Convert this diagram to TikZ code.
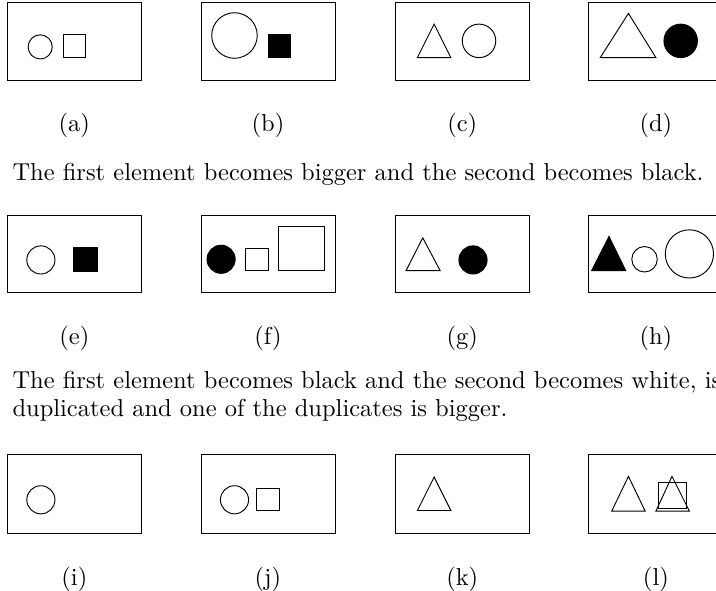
\documentclass[tikz,border=0pt]{standalone}
\usepackage{tikz}
\usetikzlibrary{positioning}

\begin{document}
\begin{tikzpicture}[panel/.style={draw,thin},
    solid shape/.style={fill=black,draw},
    sublabel/.style={anchor=base,inner sep=0pt,font=\fontsize{10.4pt}{12.4pt}\selectfont},
    caption/.style={anchor=base west,inner sep=0pt,align=left,font=\fontsize{10.4pt}{11.9pt}\selectfont}]
        \clip (0,0) rectangle (10.687,-8.821);
        \draw[panel] (0.11,-0.03) rectangle (2.11,-1.20);
        \draw[panel] (3.00,-0.03) rectangle (5.00,-1.20);
        \draw[panel] (5.90,-0.03) rectangle (7.90,-1.20);
        \draw[panel] (8.79,-0.03) rectangle (10.79,-1.20);
        \draw[panel] (0.11,-3.21) rectangle (2.11,-4.37);
        \draw[panel] (3.00,-3.21) rectangle (5.00,-4.37);
        \draw[panel] (5.90,-3.21) rectangle (7.90,-4.37);
        \draw[panel] (8.79,-3.21) rectangle (10.79,-4.37);
        \draw[panel] (0.11,-6.79) rectangle (2.11,-7.96);
        \draw[panel] (3.00,-6.79) rectangle (5.00,-7.96);
        \draw[panel] (5.90,-6.79) rectangle (7.90,-7.96);
        \draw[panel] (8.79,-6.79) rectangle (10.79,-7.96);
        \draw[panel] (0.60,-0.70) circle (0.18);
        \draw[panel] (0.94,-0.52) rectangle (1.28,-0.86);
        \draw[panel] (3.50,-0.53) circle (0.34);
        \draw[solid shape] (4.00,-0.52) rectangle (4.34,-0.86);
        \draw[panel] (6.23,-0.86) -- (6.73,-0.86) -- (6.48,-0.36) -- cycle;
        \draw[panel] (7.15,-0.61) circle (0.25);
        \draw[panel] (8.96,-0.86) -- (9.79,-0.86) -- (9.38,-0.20) -- cycle;
        \draw[solid shape] (10.16,-0.61) circle (0.25);
        \draw[panel] (0.61,-3.88) circle (0.21);
        \draw[solid shape] (1.10,-3.70) rectangle (1.45,-4.05);
        \draw[solid shape] (3.30,-3.87) circle (0.21);
        \draw[panel] (3.66,-3.71) rectangle (4.01,-4.04);
        \draw[panel] (4.16,-3.38) rectangle (4.84,-4.04);
        \draw[panel] (6.06,-4.04) -- (6.57,-4.04) -- (6.31,-3.55) -- cycle;
        \draw[solid shape] (7.06,-3.88) circle (0.21);
        \draw[solid shape] (8.83,-4.04) -- (9.34,-4.04) -- (9.09,-3.53) -- cycle;
        \draw[panel] (9.62,-3.87) circle (0.19);
        \draw[panel] (10.29,-3.79) circle (0.36);
        \draw[panel] (0.61,-7.46) circle (0.21);
        \draw[panel] (3.50,-7.46) circle (0.21);
        \draw[panel] (3.83,-7.29) rectangle (4.17,-7.62);
        \draw[panel] (6.23,-7.62) -- (6.73,-7.62) -- (6.48,-7.12) -- cycle;
        \draw[panel] (9.13,-7.63) -- (9.63,-7.63) -- (9.38,-7.11) -- cycle;
        \draw[panel] (9.83,-7.20) rectangle (10.25,-7.59);
        \draw[panel] (9.79,-7.63) -- (10.29,-7.63) -- (10.03,-7.11) -- cycle;
        \node[sublabel] (lab-a) at (1.11,-1.96) {(a)};
        \node[sublabel] (lab-b) at (4.00,-1.96) {(b)};
        \node[sublabel] (lab-c) at (6.90,-1.96) {(c)};
        \node[sublabel] (lab-d) at (9.79,-1.96) {(d)};
        \node[sublabel] (lab-e) at (1.11,-5.14) {(e)};
        \node[sublabel] (lab-f) at (4.00,-5.14) {(f)};
        \node[sublabel] (lab-g) at (6.90,-5.14) {(g)};
        \node[sublabel] (lab-h) at (9.79,-5.14) {(h)};
        \node[sublabel] (lab-i) at (1.11,-8.74) {(i)};
        \node[sublabel] (lab-j) at (4.00,-8.74) {(j)};
        \node[sublabel] (lab-k) at (6.90,-8.74) {(k)};
        \node[sublabel] (lab-l) at (9.79,-8.74) {(l)};
        \node[caption] (rule-1) at (0.18,-2.70)
          {The first element becomes bigger and the second becomes black.};
        \node[caption] (rule-2) at (0.18,-6.22)
          {The first element becomes black and the second becomes white, is\\
           duplicated and one of the duplicates is bigger.};
      \end{tikzpicture}
\end{document}
